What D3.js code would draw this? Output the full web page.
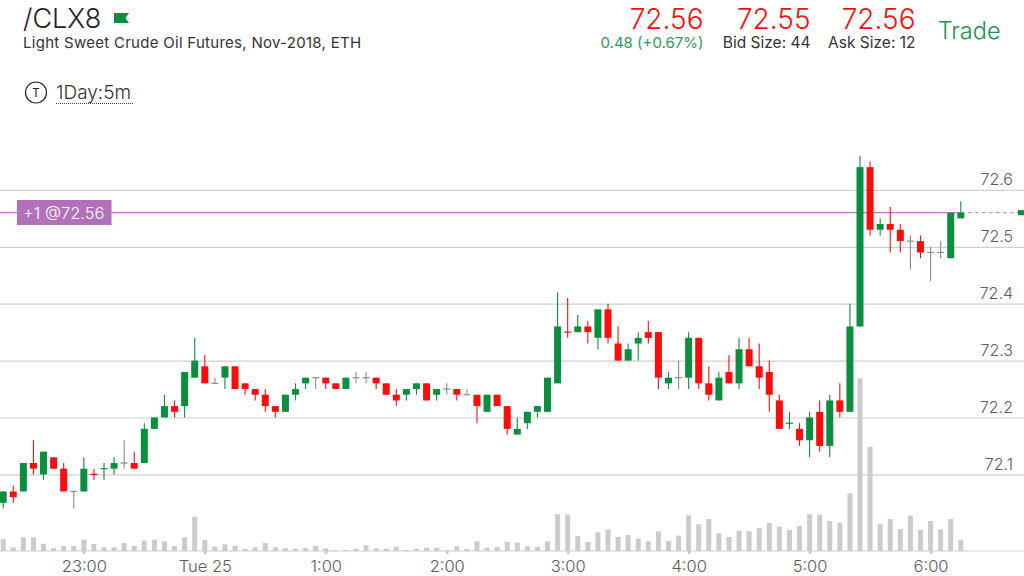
<!DOCTYPE html>
<html><head><meta charset="utf-8">
<script src="https://cdnjs.cloudflare.com/ajax/libs/d3/7.8.5/d3.min.js"></script>
<style>
html,body{margin:0;padding:0;background:#fff;overflow:hidden}
svg{display:block}
text{font-family:Inter,"Noto Sans",sans-serif}
</style></head><body><svg id="c" width="1024" height="576"></svg>
<script>
const opens=[72.05,72.07,72.07,72.12,72.10,72.13,72.11,72.07,72.07,72.10,72.11,72.11,72.12,72.12,72.12,72.18,72.20,72.22,72.22,72.27,72.29,72.26,72.27,72.29,72.26,72.25,72.24,72.22,72.21,72.24,72.26,72.27,72.27,72.26,72.25,72.27,72.27,72.27,72.26,72.24,72.24,72.25,72.26,72.24,72.25,72.25,72.24,72.24,72.21,72.24,72.22,72.17,72.19,72.21,72.21,72.26,72.35,72.35,72.36,72.34,72.39,72.33,72.30,72.33,72.35,72.35,72.26,72.27,72.27,72.34,72.26,72.23,72.28,72.26,72.32,72.29,72.28,72.23,72.19,72.18,72.16,72.21,72.15,72.23,72.21,72.36,72.64,72.53,72.54,72.53,72.51,72.51,72.49,72.49,72.48,72.55];
const closes=[72.07,72.06,72.12,72.11,72.14,72.11,72.07,72.07,72.11,72.10,72.11,72.12,72.12,72.11,72.18,72.20,72.22,72.21,72.28,72.30,72.26,72.26,72.29,72.25,72.25,72.24,72.22,72.21,72.24,72.25,72.27,72.27,72.26,72.25,72.27,72.27,72.27,72.26,72.24,72.23,72.25,72.26,72.23,72.25,72.25,72.24,72.24,72.22,72.24,72.22,72.18,72.18,72.21,72.22,72.27,72.36,72.35,72.36,72.35,72.39,72.34,72.30,72.32,72.34,72.34,72.27,72.27,72.27,72.34,72.26,72.24,72.27,72.26,72.32,72.29,72.27,72.24,72.18,72.19,72.16,72.20,72.15,72.23,72.21,72.36,72.64,72.53,72.54,72.53,72.51,72.51,72.49,72.49,72.49,72.56,72.56];
const highs=[72.07,72.08,72.12,72.16,72.14,72.13,72.12,72.07,72.13,72.11,72.12,72.13,72.16,72.14,72.19,72.20,72.24,72.23,72.28,72.34,72.31,72.27,72.29,72.29,72.26,72.25,72.25,72.22,72.24,72.26,72.27,72.27,72.27,72.26,72.27,72.28,72.28,72.27,72.26,72.25,72.25,72.26,72.26,72.25,72.26,72.25,72.25,72.24,72.24,72.24,72.22,72.20,72.21,72.22,72.27,72.42,72.41,72.38,72.37,72.39,72.40,72.36,72.33,72.35,72.37,72.35,72.28,72.30,72.35,72.34,72.29,72.28,72.31,72.34,72.34,72.33,72.30,72.24,72.21,72.19,72.21,72.23,72.24,72.26,72.40,72.66,72.65,72.55,72.57,72.54,72.52,72.52,72.50,72.51,72.56,72.58];
const lows=[72.04,72.05,72.07,72.10,72.09,72.11,72.07,72.04,72.07,72.09,72.09,72.10,72.11,72.11,72.12,72.18,72.20,72.20,72.20,72.27,72.26,72.26,72.25,72.25,72.24,72.23,72.21,72.20,72.21,72.23,72.25,72.25,72.25,72.25,72.25,72.26,72.26,72.25,72.24,72.22,72.23,72.24,72.23,72.23,72.24,72.23,72.24,72.19,72.21,72.22,72.17,72.17,72.18,72.20,72.21,72.26,72.34,72.35,72.33,72.32,72.33,72.30,72.30,72.30,72.33,72.25,72.25,72.25,72.25,72.25,72.23,72.23,72.26,72.25,72.29,72.25,72.21,72.18,72.18,72.15,72.13,72.14,72.13,72.20,72.21,72.36,72.52,72.52,72.49,72.49,72.46,72.48,72.44,72.48,72.48,72.55];
const volumes=[11.7,3.7,13.7,13.7,7.3,2.7,5,5,11.3,7,3.7,3.7,8,5,10.3,11.3,9.7,5,13.7,34.3,11,4.3,6.7,5.3,2.3,3.7,8,3.7,3,2.3,3,5,2.7,1,1,2.3,5.7,2.7,2.3,4.3,1,2.3,3.3,3.3,1,4.7,2,9.7,3.3,4,9,8.3,4.7,4,9.7,36.7,36.3,15,9,18.7,21.7,14,16,12.3,9.7,19.7,10,15.3,35.7,26.7,32,17.7,14,20.3,19.7,22.7,28,24.3,21,25,36.7,36.3,30,28.3,57.7,172.7,104.3,27,32,22,35.3,21,30,21.7,32,11.3];
const flatUp=[10,78];
const flatDown=[9,56];
const priceTicks=[72.1,72.2,72.3,72.4,72.5,72.6];
const timeTickIndex=[8,20,32,44,56,68,80,92];
const timeTickLabels=["23:00","Tue 25","1:00","2:00","3:00","4:00","5:00","6:00"];
const lastPrice=72.56;
const positionLabel="+1 @72.56";

const GREEN="#0a8f3f",RED="#fb0d0d",GRAY="#8c8c8c",GRID="#cfcfcf";
const svg=d3.select("#c");
const x=d3.scaleLinear().domain([0,95]).range([3.2,960.8]);
const y=d3.scaleLinear().domain([72.1,72.6]).range([474.4,189.9]);
const yv=d3.scaleLinear().domain([0,172.7]).range([551,378.3]);

// gridlines + price labels
const gy=svg.append("g").attr("class","y-axis").call(d3.axisRight(y).tickValues(priceTicks).tickSize(1024).tickFormat(d3.format(".1f")));
gy.select(".domain").remove();
gy.selectAll("line").attr("stroke",GRID).attr("stroke-width",1.2);
gy.selectAll("text").attr("x",1013).attr("dy",-5).attr("text-anchor","end").attr("fill","#5c5c5c").attr("font-size",16).attr("font-weight",300);

// volume baseline + hour ticks + labels
const gx=svg.append("g").attr("class","x-axis").attr("transform","translate(0,551)")
 .call(d3.axisBottom(x).tickValues(timeTickIndex).tickSize(3).tickPadding(6).tickFormat((d,i)=>timeTickLabels[i]));
gx.select(".domain").remove();
gx.selectAll("line").attr("stroke","#c8c8c8").attr("stroke-width",2.5);
gx.selectAll("text").attr("fill","#5c5c5c").attr("font-size",16.5).attr("font-weight",300).attr("y",20.5).attr("dy",0);
svg.append("line").attr("x1",0).attr("x2",1024).attr("y1",551).attr("y2",551).attr("stroke",GRID).attr("stroke-width",1);

// volume
svg.append("g").selectAll("rect").data(volumes).join("rect")
 .attr("x",(d,i)=>x(i)-2.5).attr("width",5).attr("y",d=>yv(d)).attr("height",d=>yv(0)-yv(d)).attr("fill","#cbcbcb");

// position line
const ly=y(lastPrice);
svg.append("line").attr("x1",0).attr("x2",x(95)).attr("y1",ly).attr("y2",ly).attr("stroke","#b878bf").attr("stroke-width",1.4);
svg.append("line").attr("x1",x(95)).attr("x2",1018).attr("y1",ly).attr("y2",ly).attr("stroke","#b9a3bc").attr("stroke-width",1.2).attr("stroke-dasharray","4 3");
svg.append("rect").attr("x",1018).attr("y",ly-2.6).attr("width",6).attr("height",5.2).attr("fill",GREEN);

// candles
const tone=i=>closes[i]>opens[i]||flatUp.includes(i)?GREEN:(closes[i]<opens[i]||flatDown.includes(i)?RED:GRAY);
const cs=svg.append("g").selectAll("g").data(d3.range(opens.length)).join("g");
cs.append("line").attr("x1",i=>x(i)).attr("x2",i=>x(i)).attr("y1",i=>y(highs[i])).attr("y2",i=>y(lows[i]))
 .attr("stroke",i=>tone(i)).attr("stroke-width",1.1);
cs.append("rect").attr("x",i=>x(i)-3.5).attr("width",7)
 .attr("y",i=>opens[i]===closes[i]?y(opens[i])-.6:y(Math.max(opens[i],closes[i])))
 .attr("height",i=>opens[i]===closes[i]?1.2:Math.abs(y(opens[i])-y(closes[i])))
 .attr("fill",i=>tone(i));

// position label
svg.append("rect").attr("x",17).attr("y",200).attr("width",94.5).attr("height",25).attr("fill","#b270b8");
svg.append("text").attr("x",23).attr("y",218.5).attr("fill","#fff").attr("font-size",16.5).attr("font-weight",300).text(positionLabel);

// header
const T=(s,px,py,size,fill,anchor,w)=>svg.append("text").attr("x",px).attr("y",py).attr("font-size",size).attr("fill",fill).attr("text-anchor",anchor||"start").attr("font-weight",w||400).text(s);
T("/CLX8",23,28,27,"#222","start",300);
svg.append("path").attr("d","M114 13H129L125.5 18L129 23H114Z").attr("fill",GREEN);
T("Light Sweet Crude Oil Futures, Nov-2018, ETH",23,48,15,"#333").attr("letter-spacing",.28);
svg.append("circle").attr("cx",36).attr("cy",92.5).attr("r",10.5).attr("fill","none").attr("stroke","#222").attr("stroke-width",1.2);
T("T",36,96.5,11.5,"#222","middle");
T("1Day:5m",56,99,19,"#333","start",300);
svg.append("line").attr("x1",56).attr("x2",133).attr("y1",103.5).attr("y2",103.5).attr("stroke","#444").attr("stroke-width",1).attr("stroke-dasharray","1 1");
T("72.56",703.5,29,28,RED,"end",300);
T("72.55",810.5,29,28,RED,"end",300);
T("72.56",915.5,29,28,RED,"end",300);
T("0.48 (+0.67%)",703.5,48,15,"#2e9b58","end");
T("Bid Size: 44",810.5,48,15.5,"#333","end");
T("Ask Size: 12",915.5,48,15.5,"#333","end");
T("Trade",1000.5,39,23.5,"#1d9150","end",300);
</script></body></html>
